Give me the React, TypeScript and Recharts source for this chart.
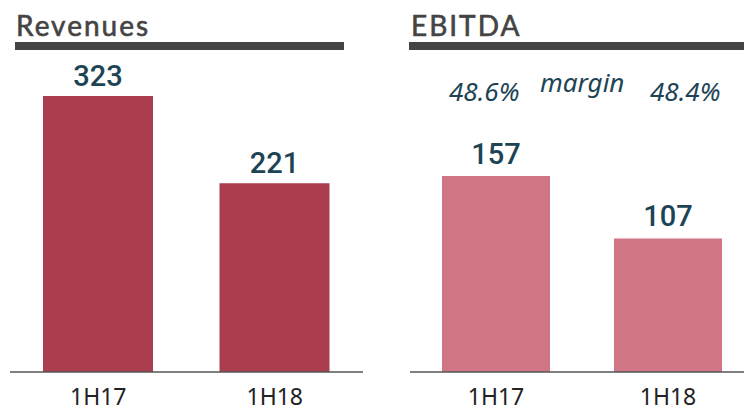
import React from 'react';
import { BarChart, Bar, XAxis, YAxis, LabelList } from 'recharts';

const periods = ['1H17', '1H18'];
const revenues = [323, 221];
const ebitda = [157, 107];
const margins = ['48.6%', '48.4%'];

const revData = periods.map((p, i) => ({ period: p, value: revenues[i] }));
const ebitdaData = periods.map((p, i) => ({ period: p, value: ebitda[i] }));

const TEAL = '#1d4455';
const GREY = '#444444';

const Tick = (props: any) => {
  const { x, payload } = props;
  return (
    <text x={x} y={405} textAnchor="middle" fontFamily="'Noto Sans', sans-serif" fontSize={23} fill="#222">
      {payload.value}
    </text>
  );
};

const titleStyle: React.CSSProperties = {
  position: 'absolute',
  top: 8,
  fontFamily: 'Lato, sans-serif',
  fontWeight: 400,
  fontSize: 28,
  letterSpacing: 2,
  WebkitTextStroke: '0.6px #444',
  color: GREY,
  lineHeight: '34px',
  whiteSpace: 'nowrap',
};

const italicStyle: React.CSSProperties = {
  position: 'absolute',
  fontFamily: "'Noto Sans', sans-serif",
  fontStyle: 'italic',
  fontSize: 26,
  color: TEAL,
  whiteSpace: 'nowrap',
  lineHeight: '26px',
};

export default function App() {
  return (
    <div style={{ position: 'absolute', left: 0, top: 0, width: 744, height: 407, overflow: 'hidden', background: '#fff' }}>
      <div style={{ ...titleStyle, left: 16 }}>Revenues</div>
      <div style={{ position: 'absolute', left: 15, top: 42, width: 329, height: 8, background: GREY }} />
      <div style={{ ...titleStyle, left: 411 }}>EBITDA</div>
      <div style={{ position: 'absolute', left: 409, top: 42, width: 335, height: 8, background: GREY }} />

      <div style={{ ...italicStyle, left: 449, top: 78 }}>{margins[0]}</div>
      <div style={{ ...italicStyle, left: 540, top: 69 }}>margin</div>
      <div style={{ ...italicStyle, left: 650, top: 78 }}>{margins[1]}</div>

      <div style={{ position: 'absolute', left: 0, top: 0 }}>
        <BarChart width={372} height={407} data={revData} margin={{ top: 96, right: 9, left: 10, bottom: 0 }}>
          <XAxis dataKey="period" height={35} tickLine={false} axisLine={{ stroke: '#555', strokeWidth: 1.5 }} tick={<Tick />} />
          <YAxis hide domain={[0, Math.max(...revenues)]} allowDataOverflow />
          <Bar dataKey="value" fill="#ab3d51" barSize={110} isAnimationActive={false}>
            <LabelList dataKey="value" position="top" offset={10} fill={TEAL} fontSize={29} fontWeight={500} fontFamily="Roboto, sans-serif" />
          </Bar>
        </BarChart>
      </div>
      <div style={{ position: 'absolute', left: 372, top: 0 }}>
        <BarChart width={382} height={407} data={ebitdaData} margin={{ top: 176, right: 0, left: 38, bottom: 0 }}>
          <XAxis dataKey="period" height={35} tickLine={false} axisLine={{ stroke: '#555', strokeWidth: 1.5 }} tick={<Tick />} />
          <YAxis hide domain={[0, Math.max(...ebitda)]} allowDataOverflow />
          <Bar dataKey="value" fill="#d07684" barSize={108} isAnimationActive={false}>
            <LabelList dataKey="value" position="top" offset={12} fill={TEAL} fontSize={29} fontWeight={500} fontFamily="Roboto, sans-serif" />
          </Bar>
        </BarChart>
      </div>
    </div>
  );
}
